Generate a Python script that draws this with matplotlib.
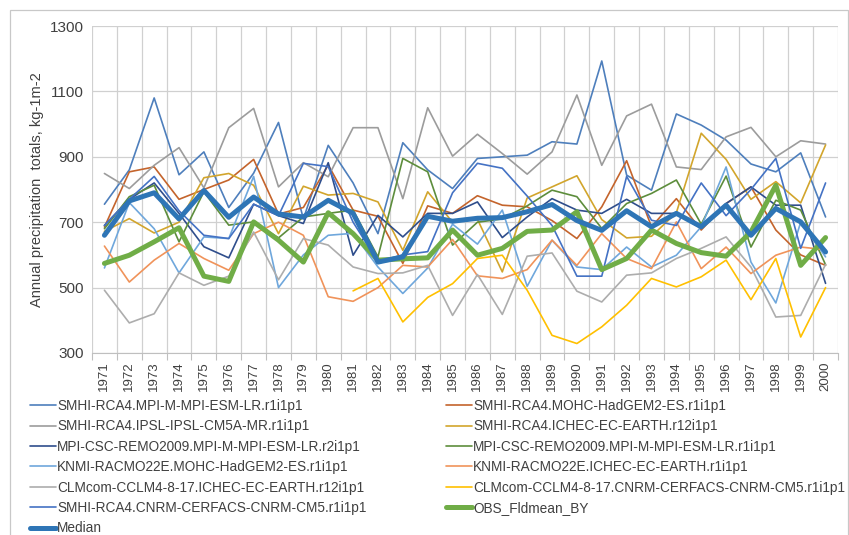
import numpy as np
import matplotlib.pyplot as plt
from matplotlib.patches import Rectangle

# categories
years = [str(y) for y in range(1971, 2001)]

# model series, kg m-2 per year
smhi_mpi = [755, 860, 1080, 845, 915, 745, 850, 1005, 710, 935, 820, 665, 943, 860, 803,
            895, 900, 905, 946, 939, 1193, 844, 798, 1031, 997, 951, 878, 854, 912, 716]
smhi_mohc = [685, 854, 869, 770, 800, 829, 892, 725, 745, 875, 737, 718, 574, 750, 727,
             781, 752, 747, 705, 650, 747, 888, 686, 772, 676, 757, 808, 676, 600, 568]
smhi_ipsl = [849, 803, 874, 928, 805, 989, 1048, 808, 882, 839, 989, 989, 772, 1050, 902,
             969, 910, 847, 915, 1089, 874, 1025, 1061, 869, 861, 961, 990, 900, 949, 939]
smhi_ichec = [672, 711, 667, 700, 836, 849, 813, 665, 810, 783, 788, 762, 614, 793, 700,
              709, 548, 774, 808, 842, 708, 652, 657, 729, 972, 892, 770, 824, 759, 936]
remo_r2 = [690, 770, 820, 727, 625, 591, 755, 720, 696, 882, 599, 721, 655, 727, 727,
           762, 653, 716, 772, 737, 727, 770, 727, 727, 681, 757, 808, 752, 752, 513]
remo_r1 = [680, 778, 813, 640, 793, 691, 701, 652, 716, 727, 737, 594, 895, 854, 630,
           700, 710, 750, 798, 778, 681, 757, 788, 829, 694, 841, 624, 767, 737, 570]
knmi_mohc = [560, 760, 680, 545, 655, 650, 840, 500, 600, 660, 666, 563, 482, 560, 694,
             633, 737, 504, 645, 563, 555, 624, 563, 599, 686, 869, 578, 453, 700, 594]
knmi_ichec = [627, 517, 584, 635, 589, 553, 665, 700, 660, 472, 458, 500, 568, 563, 647,
              536, 528, 555, 645, 568, 665, 589, 558, 701, 558, 624, 543, 599, 624, 616]
clm_ichec = [492, 392, 420, 545, 507, 535, 670, 524, 650, 630, 563, 543, 545, 568, 415,
             540, 418, 596, 606, 489, 456, 538, 545, 589, 620, 655, 563, 410, 415, 571]
clm_cnrm = [np.nan] * 10 + [490, 528, 395, 470, 512, 589, 599, 492, 354, 329,
                            380, 446, 528, 502, 533, 584, 463, 589, 349, 500]
smhi_cnrm = [690, 770, 840, 735, 660, 650, 755, 720, 880, 870, 700, 580, 600, 610, 790,
             880, 865, 780, 690, 535, 535, 840, 706, 690, 820, 720, 800, 895, 620, 820]
obs = [574, 599, 640, 683, 535, 519, 701, 645, 578, 729, 665, 584, 588, 591, 676,
       599, 620, 672, 676, 732, 555, 589, 676, 635, 607, 596, 670, 813, 568, 653]
median = [660, 765, 790, 710, 797, 715, 777, 725, 716, 767, 727, 578, 594, 718, 703,
          712, 714, 732, 754, 705, 675, 735, 686, 727, 686, 752, 660, 742, 701, 609]

series = [
    ("SMHI-RCA4.MPI-M-MPI-ESM-LR.r1i1p1", smhi_mpi, "#4E7FBC", 1.2),
    ("SMHI-RCA4.MOHC-HadGEM2-ES.r1i1p1", smhi_mohc, "#C4642C", 1.2),
    ("SMHI-RCA4.IPSL-IPSL-CM5A-MR.r1i1p1", smhi_ipsl, "#9C9C9C", 1.2),
    ("SMHI-RCA4.ICHEC-EC-EARTH.r12i1p1", smhi_ichec, "#D2A52C", 1.2),
    ("MPI-CSC-REMO2009.MPI-M-MPI-ESM-LR.r2i1p1", remo_r2, "#2F4E8C", 1.2),
    ("MPI-CSC-REMO2009.MPI-M-MPI-ESM-LR.r1i1p1", remo_r1, "#5D8D3C", 1.2),
    ("KNMI-RACMO22E.MOHC-HadGEM2-ES.r1i1p1", knmi_mohc, "#6FA7DC", 1.2),
    ("KNMI-RACMO22E.ICHEC-EC-EARTH.r1i1p1", knmi_ichec, "#F0935A", 1.2),
    ("CLMcom-CCLM4-8-17.ICHEC-EC-EARTH.r12i1p1", clm_ichec, "#ADADAD", 1.2),
    ("CLMcom-CCLM4-8-17.CNRM-CERFACS-CNRM-CM5.r1i1p1", clm_cnrm, "#FFC000", 1.2),
    ("SMHI-RCA4.CNRM-CERFACS-CNRM-CM5.r1i1p1", smhi_cnrm, "#4472C4", 1.2),
    ("OBS_Fldmean_BY", obs, "#70AD47", 3.6),
    ("Median", median, "#2E75B6", 3.6),
]

plt.rcParams["font.family"] = ["Liberation Sans", "DejaVu Sans"]

fig = plt.figure(figsize=(8.49, 5.35), dpi=100)
W, H = 849, 535
ax = fig.add_axes([92 / W, 1 - 353 / H, (838 - 92) / W, (353 - 26) / H])

# outer chart border
fig.patches.append(Rectangle((10 / W, -0.05), 838 / W, 1.05 - 10 / H,
                             transform=fig.transFigure, fill=False,
                             edgecolor="#C8C8C8", linewidth=0.9))

x = np.arange(len(years))
handles = []
for name, vals, col, lw in series:
    h, = ax.plot(x, vals, color=col, linewidth=lw, label=name,
                 solid_joinstyle="round", solid_capstyle="round")
    handles.append(h)

ax.set_xlim(-0.5, len(years) - 0.5)
ax.set_ylim(300, 1300)
ax.set_yticks([300, 500, 700, 900, 1100, 1300])
ax.set_xticks(x)
ax.set_xticklabels(years, rotation=90, fontsize=9.5, color="#404040")
ax.set_xticks(np.arange(-0.5, len(years)), minor=True)
ax.tick_params(axis="x", which="major", length=0, pad=6)
ax.tick_params(axis="x", which="minor", length=5, color="#BFBFBF", width=0.8)
ax.tick_params(axis="y", length=0, pad=6, labelsize=11, labelcolor="#404040")

ax.grid(axis="y", color="#D0D0D0", linewidth=0.9)
ax.grid(axis="x", which="minor", color="#D0D0D0", linewidth=0.9)
ax.set_axisbelow(True)
for s in ["top", "right", "left"]:
    ax.spines[s].set_visible(False)
ax.spines["bottom"].set_color("#BFBFBF")

ax.set_ylabel("Annual precipitation  totals, kg-1m-2", fontsize=10.5,
              color="#404040", labelpad=4)

# Excel-like two-column legend, filled row by row
left = [0, 2, 4, 6, 8, 10, 12]
right = [1, 3, 5, 7, 9, 11]
legprops = dict(frameon=False, loc="upper left", borderaxespad=0, borderpad=0,
                handlelength=1.9, handletextpad=0.1, labelspacing=0.47,
                fontsize=9.8)
leg1 = fig.legend([handles[i] for i in left], [series[i][0] for i in left],
                  bbox_to_anchor=(30 / W, 1 - 399 / H), **legprops)
leg2 = fig.legend([handles[i] for i in right], [series[i][0] for i in right],
                  bbox_to_anchor=(446 / W, 1 - 399 / H), **legprops)
for leg in (leg1, leg2):
    for t in leg.get_texts():
        t.set_color("#404040")

fig.savefig("out.png", dpi=100)
